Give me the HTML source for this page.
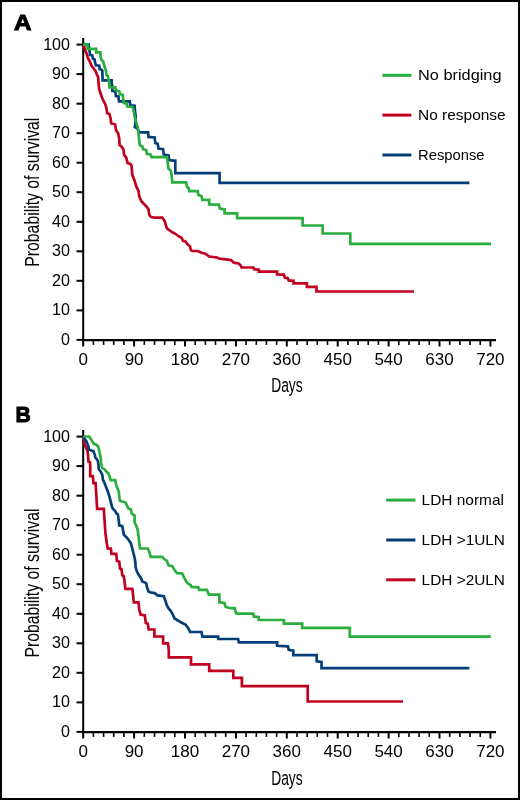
<!DOCTYPE html>
<html><head><meta charset="utf-8"><style>
html,body{margin:0;padding:0;background:#fff;}
svg{display:block;will-change:transform;}
text{font-family:"Liberation Sans",sans-serif;fill:#000;}
.tl{font-size:17px;}
.lab{font-size:20px;}
.leg{font-size:15px;}
.pl{font-size:22px;font-weight:bold;stroke:#000;stroke-width:1px;}
</style></head><body>
<svg width="520" height="800" viewBox="0 0 520 800">
<rect x="1" y="1" width="518" height="798" fill="#fff" stroke="#000" stroke-width="2"/>
<text transform="translate(14.0,30.4) scale(1.1,1)" x="0" y="0" class="pl">A</text>
<text transform="translate(15.6,421.9) scale(0.96,1)" x="0" y="0" class="pl">B</text>
<line x1="83.2" y1="37.9" x2="83.2" y2="340.9" stroke="#000" stroke-width="2"/>
<line x1="82.2" y1="340.2" x2="496" y2="340.2" stroke="#000" stroke-width="2.2"/>
<line x1="76.5" y1="339.9" x2="83.2" y2="339.9" stroke="#000" stroke-width="2"/>
<text x="70.0" y="344.8" text-anchor="end" class="tl" textLength="8.95" lengthAdjust="spacingAndGlyphs">0</text>
<line x1="76.5" y1="310.4" x2="83.2" y2="310.4" stroke="#000" stroke-width="2"/>
<text x="70.0" y="315.3" text-anchor="end" class="tl" textLength="17.90" lengthAdjust="spacingAndGlyphs">10</text>
<line x1="76.5" y1="280.8" x2="83.2" y2="280.8" stroke="#000" stroke-width="2"/>
<text x="70.0" y="285.7" text-anchor="end" class="tl" textLength="17.90" lengthAdjust="spacingAndGlyphs">20</text>
<line x1="76.5" y1="251.3" x2="83.2" y2="251.3" stroke="#000" stroke-width="2"/>
<text x="70.0" y="256.2" text-anchor="end" class="tl" textLength="17.90" lengthAdjust="spacingAndGlyphs">30</text>
<line x1="76.5" y1="221.8" x2="83.2" y2="221.8" stroke="#000" stroke-width="2"/>
<text x="70.0" y="226.7" text-anchor="end" class="tl" textLength="17.90" lengthAdjust="spacingAndGlyphs">40</text>
<line x1="76.5" y1="192.2" x2="83.2" y2="192.2" stroke="#000" stroke-width="2"/>
<text x="70.0" y="197.2" text-anchor="end" class="tl" textLength="17.90" lengthAdjust="spacingAndGlyphs">50</text>
<line x1="76.5" y1="162.7" x2="83.2" y2="162.7" stroke="#000" stroke-width="2"/>
<text x="70.0" y="167.6" text-anchor="end" class="tl" textLength="17.90" lengthAdjust="spacingAndGlyphs">60</text>
<line x1="76.5" y1="133.2" x2="83.2" y2="133.2" stroke="#000" stroke-width="2"/>
<text x="70.0" y="138.1" text-anchor="end" class="tl" textLength="17.90" lengthAdjust="spacingAndGlyphs">70</text>
<line x1="76.5" y1="103.7" x2="83.2" y2="103.7" stroke="#000" stroke-width="2"/>
<text x="70.0" y="108.6" text-anchor="end" class="tl" textLength="17.90" lengthAdjust="spacingAndGlyphs">80</text>
<line x1="76.5" y1="74.1" x2="83.2" y2="74.1" stroke="#000" stroke-width="2"/>
<text x="70.0" y="79.0" text-anchor="end" class="tl" textLength="17.90" lengthAdjust="spacingAndGlyphs">90</text>
<line x1="76.5" y1="44.6" x2="83.2" y2="44.6" stroke="#000" stroke-width="2"/>
<text x="70.0" y="49.5" text-anchor="end" class="tl" textLength="26.85" lengthAdjust="spacingAndGlyphs">100</text>
<line x1="83.2" y1="339.9" x2="83.2" y2="346.5" stroke="#000" stroke-width="2"/>
<text x="83.2" y="365.2" text-anchor="middle" class="tl">0</text>
<line x1="93.4" y1="339.9" x2="93.4" y2="344.9" stroke="#000" stroke-width="1.6"/>
<line x1="103.6" y1="339.9" x2="103.6" y2="344.9" stroke="#000" stroke-width="1.6"/>
<line x1="113.7" y1="339.9" x2="113.7" y2="344.9" stroke="#000" stroke-width="1.6"/>
<line x1="123.9" y1="339.9" x2="123.9" y2="344.9" stroke="#000" stroke-width="1.6"/>
<line x1="134.1" y1="339.9" x2="134.1" y2="346.5" stroke="#000" stroke-width="2"/>
<text x="134.1" y="365.2" text-anchor="middle" class="tl">90</text>
<line x1="144.3" y1="339.9" x2="144.3" y2="344.9" stroke="#000" stroke-width="1.6"/>
<line x1="154.5" y1="339.9" x2="154.5" y2="344.9" stroke="#000" stroke-width="1.6"/>
<line x1="164.6" y1="339.9" x2="164.6" y2="344.9" stroke="#000" stroke-width="1.6"/>
<line x1="174.8" y1="339.9" x2="174.8" y2="344.9" stroke="#000" stroke-width="1.6"/>
<line x1="185.0" y1="339.9" x2="185.0" y2="346.5" stroke="#000" stroke-width="2"/>
<text x="185.0" y="365.2" text-anchor="middle" class="tl">180</text>
<line x1="195.2" y1="339.9" x2="195.2" y2="344.9" stroke="#000" stroke-width="1.6"/>
<line x1="205.4" y1="339.9" x2="205.4" y2="344.9" stroke="#000" stroke-width="1.6"/>
<line x1="215.5" y1="339.9" x2="215.5" y2="344.9" stroke="#000" stroke-width="1.6"/>
<line x1="225.7" y1="339.9" x2="225.7" y2="344.9" stroke="#000" stroke-width="1.6"/>
<line x1="235.9" y1="339.9" x2="235.9" y2="346.5" stroke="#000" stroke-width="2"/>
<text x="235.9" y="365.2" text-anchor="middle" class="tl">270</text>
<line x1="246.1" y1="339.9" x2="246.1" y2="344.9" stroke="#000" stroke-width="1.6"/>
<line x1="256.3" y1="339.9" x2="256.3" y2="344.9" stroke="#000" stroke-width="1.6"/>
<line x1="266.4" y1="339.9" x2="266.4" y2="344.9" stroke="#000" stroke-width="1.6"/>
<line x1="276.6" y1="339.9" x2="276.6" y2="344.9" stroke="#000" stroke-width="1.6"/>
<line x1="286.8" y1="339.9" x2="286.8" y2="346.5" stroke="#000" stroke-width="2"/>
<text x="286.8" y="365.2" text-anchor="middle" class="tl">360</text>
<line x1="297.0" y1="339.9" x2="297.0" y2="344.9" stroke="#000" stroke-width="1.6"/>
<line x1="307.2" y1="339.9" x2="307.2" y2="344.9" stroke="#000" stroke-width="1.6"/>
<line x1="317.3" y1="339.9" x2="317.3" y2="344.9" stroke="#000" stroke-width="1.6"/>
<line x1="327.5" y1="339.9" x2="327.5" y2="344.9" stroke="#000" stroke-width="1.6"/>
<line x1="337.7" y1="339.9" x2="337.7" y2="346.5" stroke="#000" stroke-width="2"/>
<text x="337.7" y="365.2" text-anchor="middle" class="tl">450</text>
<line x1="347.9" y1="339.9" x2="347.9" y2="344.9" stroke="#000" stroke-width="1.6"/>
<line x1="358.1" y1="339.9" x2="358.1" y2="344.9" stroke="#000" stroke-width="1.6"/>
<line x1="368.2" y1="339.9" x2="368.2" y2="344.9" stroke="#000" stroke-width="1.6"/>
<line x1="378.4" y1="339.9" x2="378.4" y2="344.9" stroke="#000" stroke-width="1.6"/>
<line x1="388.6" y1="339.9" x2="388.6" y2="346.5" stroke="#000" stroke-width="2"/>
<text x="388.6" y="365.2" text-anchor="middle" class="tl">540</text>
<line x1="398.8" y1="339.9" x2="398.8" y2="344.9" stroke="#000" stroke-width="1.6"/>
<line x1="409.0" y1="339.9" x2="409.0" y2="344.9" stroke="#000" stroke-width="1.6"/>
<line x1="419.1" y1="339.9" x2="419.1" y2="344.9" stroke="#000" stroke-width="1.6"/>
<line x1="429.3" y1="339.9" x2="429.3" y2="344.9" stroke="#000" stroke-width="1.6"/>
<line x1="439.5" y1="339.9" x2="439.5" y2="346.5" stroke="#000" stroke-width="2"/>
<text x="439.5" y="365.2" text-anchor="middle" class="tl">630</text>
<line x1="449.7" y1="339.9" x2="449.7" y2="344.9" stroke="#000" stroke-width="1.6"/>
<line x1="459.9" y1="339.9" x2="459.9" y2="344.9" stroke="#000" stroke-width="1.6"/>
<line x1="470.0" y1="339.9" x2="470.0" y2="344.9" stroke="#000" stroke-width="1.6"/>
<line x1="480.2" y1="339.9" x2="480.2" y2="344.9" stroke="#000" stroke-width="1.6"/>
<line x1="490.4" y1="339.9" x2="490.4" y2="346.5" stroke="#000" stroke-width="2"/>
<text x="490.4" y="365.2" text-anchor="middle" class="tl">720</text>
<text x="271.2" y="392.1" class="lab" textLength="31.5" lengthAdjust="spacingAndGlyphs">Days</text>
<text transform="translate(39.3,192.2) rotate(-90)" x="0" y="0" text-anchor="middle" class="lab" textLength="149" lengthAdjust="spacingAndGlyphs">Probability of survival</text>
<line x1="83.2" y1="429.9" x2="83.2" y2="732.9" stroke="#000" stroke-width="2"/>
<line x1="82.2" y1="732.2" x2="496" y2="732.2" stroke="#000" stroke-width="2.2"/>
<line x1="76.5" y1="731.9" x2="83.2" y2="731.9" stroke="#000" stroke-width="2"/>
<text x="70.0" y="736.8" text-anchor="end" class="tl" textLength="8.95" lengthAdjust="spacingAndGlyphs">0</text>
<line x1="76.5" y1="702.4" x2="83.2" y2="702.4" stroke="#000" stroke-width="2"/>
<text x="70.0" y="707.3" text-anchor="end" class="tl" textLength="17.90" lengthAdjust="spacingAndGlyphs">10</text>
<line x1="76.5" y1="672.8" x2="83.2" y2="672.8" stroke="#000" stroke-width="2"/>
<text x="70.0" y="677.7" text-anchor="end" class="tl" textLength="17.90" lengthAdjust="spacingAndGlyphs">20</text>
<line x1="76.5" y1="643.3" x2="83.2" y2="643.3" stroke="#000" stroke-width="2"/>
<text x="70.0" y="648.2" text-anchor="end" class="tl" textLength="17.90" lengthAdjust="spacingAndGlyphs">30</text>
<line x1="76.5" y1="613.8" x2="83.2" y2="613.8" stroke="#000" stroke-width="2"/>
<text x="70.0" y="618.7" text-anchor="end" class="tl" textLength="17.90" lengthAdjust="spacingAndGlyphs">40</text>
<line x1="76.5" y1="584.2" x2="83.2" y2="584.2" stroke="#000" stroke-width="2"/>
<text x="70.0" y="589.1" text-anchor="end" class="tl" textLength="17.90" lengthAdjust="spacingAndGlyphs">50</text>
<line x1="76.5" y1="554.7" x2="83.2" y2="554.7" stroke="#000" stroke-width="2"/>
<text x="70.0" y="559.6" text-anchor="end" class="tl" textLength="17.90" lengthAdjust="spacingAndGlyphs">60</text>
<line x1="76.5" y1="525.2" x2="83.2" y2="525.2" stroke="#000" stroke-width="2"/>
<text x="70.0" y="530.1" text-anchor="end" class="tl" textLength="17.90" lengthAdjust="spacingAndGlyphs">70</text>
<line x1="76.5" y1="495.7" x2="83.2" y2="495.7" stroke="#000" stroke-width="2"/>
<text x="70.0" y="500.6" text-anchor="end" class="tl" textLength="17.90" lengthAdjust="spacingAndGlyphs">80</text>
<line x1="76.5" y1="466.1" x2="83.2" y2="466.1" stroke="#000" stroke-width="2"/>
<text x="70.0" y="471.0" text-anchor="end" class="tl" textLength="17.90" lengthAdjust="spacingAndGlyphs">90</text>
<line x1="76.5" y1="436.6" x2="83.2" y2="436.6" stroke="#000" stroke-width="2"/>
<text x="70.0" y="441.5" text-anchor="end" class="tl" textLength="26.85" lengthAdjust="spacingAndGlyphs">100</text>
<line x1="83.2" y1="731.9" x2="83.2" y2="738.5" stroke="#000" stroke-width="2"/>
<text x="83.2" y="757.2" text-anchor="middle" class="tl">0</text>
<line x1="93.4" y1="731.9" x2="93.4" y2="736.9" stroke="#000" stroke-width="1.6"/>
<line x1="103.6" y1="731.9" x2="103.6" y2="736.9" stroke="#000" stroke-width="1.6"/>
<line x1="113.7" y1="731.9" x2="113.7" y2="736.9" stroke="#000" stroke-width="1.6"/>
<line x1="123.9" y1="731.9" x2="123.9" y2="736.9" stroke="#000" stroke-width="1.6"/>
<line x1="134.1" y1="731.9" x2="134.1" y2="738.5" stroke="#000" stroke-width="2"/>
<text x="134.1" y="757.2" text-anchor="middle" class="tl">90</text>
<line x1="144.3" y1="731.9" x2="144.3" y2="736.9" stroke="#000" stroke-width="1.6"/>
<line x1="154.5" y1="731.9" x2="154.5" y2="736.9" stroke="#000" stroke-width="1.6"/>
<line x1="164.6" y1="731.9" x2="164.6" y2="736.9" stroke="#000" stroke-width="1.6"/>
<line x1="174.8" y1="731.9" x2="174.8" y2="736.9" stroke="#000" stroke-width="1.6"/>
<line x1="185.0" y1="731.9" x2="185.0" y2="738.5" stroke="#000" stroke-width="2"/>
<text x="185.0" y="757.2" text-anchor="middle" class="tl">180</text>
<line x1="195.2" y1="731.9" x2="195.2" y2="736.9" stroke="#000" stroke-width="1.6"/>
<line x1="205.4" y1="731.9" x2="205.4" y2="736.9" stroke="#000" stroke-width="1.6"/>
<line x1="215.5" y1="731.9" x2="215.5" y2="736.9" stroke="#000" stroke-width="1.6"/>
<line x1="225.7" y1="731.9" x2="225.7" y2="736.9" stroke="#000" stroke-width="1.6"/>
<line x1="235.9" y1="731.9" x2="235.9" y2="738.5" stroke="#000" stroke-width="2"/>
<text x="235.9" y="757.2" text-anchor="middle" class="tl">270</text>
<line x1="246.1" y1="731.9" x2="246.1" y2="736.9" stroke="#000" stroke-width="1.6"/>
<line x1="256.3" y1="731.9" x2="256.3" y2="736.9" stroke="#000" stroke-width="1.6"/>
<line x1="266.4" y1="731.9" x2="266.4" y2="736.9" stroke="#000" stroke-width="1.6"/>
<line x1="276.6" y1="731.9" x2="276.6" y2="736.9" stroke="#000" stroke-width="1.6"/>
<line x1="286.8" y1="731.9" x2="286.8" y2="738.5" stroke="#000" stroke-width="2"/>
<text x="286.8" y="757.2" text-anchor="middle" class="tl">360</text>
<line x1="297.0" y1="731.9" x2="297.0" y2="736.9" stroke="#000" stroke-width="1.6"/>
<line x1="307.2" y1="731.9" x2="307.2" y2="736.9" stroke="#000" stroke-width="1.6"/>
<line x1="317.3" y1="731.9" x2="317.3" y2="736.9" stroke="#000" stroke-width="1.6"/>
<line x1="327.5" y1="731.9" x2="327.5" y2="736.9" stroke="#000" stroke-width="1.6"/>
<line x1="337.7" y1="731.9" x2="337.7" y2="738.5" stroke="#000" stroke-width="2"/>
<text x="337.7" y="757.2" text-anchor="middle" class="tl">450</text>
<line x1="347.9" y1="731.9" x2="347.9" y2="736.9" stroke="#000" stroke-width="1.6"/>
<line x1="358.1" y1="731.9" x2="358.1" y2="736.9" stroke="#000" stroke-width="1.6"/>
<line x1="368.2" y1="731.9" x2="368.2" y2="736.9" stroke="#000" stroke-width="1.6"/>
<line x1="378.4" y1="731.9" x2="378.4" y2="736.9" stroke="#000" stroke-width="1.6"/>
<line x1="388.6" y1="731.9" x2="388.6" y2="738.5" stroke="#000" stroke-width="2"/>
<text x="388.6" y="757.2" text-anchor="middle" class="tl">540</text>
<line x1="398.8" y1="731.9" x2="398.8" y2="736.9" stroke="#000" stroke-width="1.6"/>
<line x1="409.0" y1="731.9" x2="409.0" y2="736.9" stroke="#000" stroke-width="1.6"/>
<line x1="419.1" y1="731.9" x2="419.1" y2="736.9" stroke="#000" stroke-width="1.6"/>
<line x1="429.3" y1="731.9" x2="429.3" y2="736.9" stroke="#000" stroke-width="1.6"/>
<line x1="439.5" y1="731.9" x2="439.5" y2="738.5" stroke="#000" stroke-width="2"/>
<text x="439.5" y="757.2" text-anchor="middle" class="tl">630</text>
<line x1="449.7" y1="731.9" x2="449.7" y2="736.9" stroke="#000" stroke-width="1.6"/>
<line x1="459.9" y1="731.9" x2="459.9" y2="736.9" stroke="#000" stroke-width="1.6"/>
<line x1="470.0" y1="731.9" x2="470.0" y2="736.9" stroke="#000" stroke-width="1.6"/>
<line x1="480.2" y1="731.9" x2="480.2" y2="736.9" stroke="#000" stroke-width="1.6"/>
<line x1="490.4" y1="731.9" x2="490.4" y2="738.5" stroke="#000" stroke-width="2"/>
<text x="490.4" y="757.2" text-anchor="middle" class="tl">720</text>
<text x="271.2" y="784.7" class="lab" textLength="31.5" lengthAdjust="spacingAndGlyphs">Days</text>
<text transform="translate(39.3,583.0) rotate(-90)" x="0" y="0" text-anchor="middle" class="lab" textLength="149" lengthAdjust="spacingAndGlyphs">Probability of survival</text>
<path d="M83.2,44.6 L84.3,46.7 L84.9,49.8 L85.8,51.7 L86.8,54.0 L87.7,57.2 L88.6,59.5 L90.0,61.8 L90.9,64.2 L92.1,66.5 L93.2,67.8 L94.6,69.7 L96.0,72.0 L96.9,74.6 L98.2,77.0 L98.5,83.1 L99.2,89.2 L100.8,94.0 L102.0,97.5 L103.1,100.2 L105.0,103.5 L106.0,106.5 L106.8,110.0 L107.1,113.0 L109.4,114.0 L110.6,118.5 L111.2,123.5 L115.0,124.3 L116.0,130.0 L118.2,133.5 L119.2,138.5 L119.6,145.0 L122.0,147.0 L123.6,150.0 L124.0,154.6 L126.2,157.7 L127.7,163.1 L130.5,164.0 L131.5,165.4 L132.3,174.6 L134.6,180.8 L136.2,186.2 L138.5,190.8 L139.2,196.2 L141.5,201.5 L143.8,203.8 L146.2,206.2 L148.5,209.2 L149.2,214.6 L150.8,216.9 L154.6,217.7 L162.3,217.7 L164.6,220.8 L166.2,226.2 L166.9,228.5 L169.2,230.0 L172.3,232.3 L175.4,233.8 L178.5,236.2 L181.5,237.7 L183.1,240.8 L185.4,241.5 L187.7,244.6 L190.0,246.2 L190.8,250.0 L192.3,251.0 L197.7,251.0 L201.5,252.7 L205.4,253.7 L209.2,256.5 L216.9,257.5 L218.8,258.5 L225.6,259.4 L231.0,260.0 L233.8,262.7 L238.7,263.5 L240.6,265.4 L241.5,267.5 L253.5,267.5 L254.0,269.2 L258.8,269.8 L258.8,271.7 L277.1,271.7 L277.1,274.4 L283.8,274.6 L284.8,277.5 L287.7,278.1 L288.7,280.4 L293.5,280.8 L293.5,283.3 L306.9,283.3 L306.9,286.9 L316.5,286.9 L316.5,291.5 L414.0,291.5" fill="none" stroke="#c1001f" stroke-width="2.7" stroke-linejoin="miter" stroke-linecap="butt"/>
<path d="M83.2,44.6 L88.7,44.6 L89.1,48.0 L89.5,50.5 L90.0,54.9 L92.3,55.4 L92.8,58.6 L94.6,59.5 L95.1,62.8 L96.0,65.5 L99.2,65.5 L99.7,69.2 L101.5,69.7 L102.3,70.6 L102.6,80.4 L111.6,80.3 L111.8,85.4 L112.3,85.6 L112.3,90.8 L115.3,91.3 L115.9,96.0 L118.5,96.5 L119.0,101.3 L129.8,101.3 L130.3,105.4 L134.6,105.8 L135.0,111.5 L135.8,116.5 L135.3,124.0 L134.8,127.0 L137.5,128.5 L138.8,132.3 L148.1,132.3 L148.5,136.9 L154.6,137.4 L155.4,143.1 L157.7,143.8 L158.5,148.5 L163.1,149.2 L163.8,154.6 L168.5,155.4 L169.2,160.0 L175.3,160.8 L175.3,173.1 L219.6,173.1 L219.6,182.8 L469.4,182.8" fill="none" stroke="#043e78" stroke-width="2.7" stroke-linejoin="miter" stroke-linecap="butt"/>
<path d="M83.2,44.6 L87.5,44.6 L87.5,48.8 L96.2,48.8 L96.2,52.4 L100.4,52.4 L100.7,56.8 L101.5,60.0 L103.2,61.5 L104.3,65.5 L105.2,68.3 L106.1,71.5 L106.5,75.2 L107.8,75.8 L108.1,77.5 L108.4,79.2 L109.0,81.5 L109.3,84.4 L109.5,87.3 L115.3,87.3 L115.9,90.2 L119.3,91.3 L119.9,94.2 L122.8,94.8 L123.2,99.0 L123.8,103.0 L126.5,103.5 L127.2,106.5 L132.5,107.0 L133.5,110.0 L134.6,116.2 L136.2,122.3 L137.7,126.9 L138.5,133.1 L139.2,140.8 L140.0,145.4 L142.3,146.2 L143.1,149.2 L146.2,150.0 L146.9,153.8 L150.8,154.6 L151.5,157.2 L166.9,157.2 L167.7,162.3 L168.5,168.5 L170.8,170.8 L171.5,174.6 L172.3,182.3 L186.2,182.3 L186.9,186.9 L188.5,187.7 L189.2,191.2 L197.7,191.2 L198.5,195.2 L201.5,196.0 L202.3,199.8 L209.2,199.8 L209.2,204.4 L218.8,204.6 L219.8,208.5 L224.6,209.4 L224.6,213.3 L237.1,213.3 L237.1,218.1 L302.6,218.1 L302.6,225.5 L322.6,225.5 L322.6,233.5 L350.3,233.5 L350.3,243.9 L491.0,243.9" fill="none" stroke="#2aae3e" stroke-width="2.7" stroke-linejoin="miter" stroke-linecap="butt"/>
<path d="M83.2,436.5 L84.2,439.5 L84.6,444.6 L86.0,447.5 L87.5,450.8 L88.1,456.2 L88.5,461.8 L90.0,462.3 L90.3,466.5 L90.2,476.2 L92.8,476.2 L93.5,483.1 L95.6,483.1 L96.5,498.0 L97.1,508.8 L103.8,508.8 L104.6,520.8 L105.4,533.1 L106.9,543.8 L107.7,548.5 L110.8,548.5 L111.5,553.8 L116.2,553.8 L116.9,561.0 L119.2,561.5 L120.0,568.5 L121.5,569.2 L122.3,575.4 L123.8,576.2 L124.6,582.3 L125.4,588.8 L132.3,588.8 L133.1,595.4 L133.8,602.3 L138.5,602.3 L139.2,609.0 L140.5,614.5 L144.8,615.4 L145.8,623.0 L147.7,623.6 L148.7,629.5 L154.4,629.5 L154.4,636.5 L163.1,636.5 L163.1,643.3 L167.9,643.3 L168.8,650.0 L168.8,657.3 L191.0,657.3 L191.0,664.4 L209.2,664.4 L209.2,670.8 L233.3,670.8 L233.3,677.9 L241.9,677.9 L241.9,686.2 L307.7,686.2 L307.7,701.5 L403.0,701.5" fill="none" stroke="#c1001f" stroke-width="2.7" stroke-linejoin="miter" stroke-linecap="butt"/>
<path d="M83.2,436.5 L84.6,438.5 L86.2,440.8 L86.9,442.7 L87.7,444.6 L88.5,446.9 L88.8,449.4 L90.8,450.0 L91.5,450.8 L93.5,451.2 L94.2,453.1 L95.0,455.4 L95.4,457.7 L96.9,459.2 L98.0,461.5 L98.4,464.6 L98.8,469.2 L100.6,471.5 L102.3,475.0 L102.9,479.6 L104.6,483.1 L106.3,487.7 L108.1,492.3 L109.2,495.8 L110.4,500.4 L111.5,505.0 L112.7,508.5 L115.0,510.8 L116.2,513.1 L117.9,514.4 L118.8,521.0 L119.2,525.4 L122.3,526.2 L123.8,534.6 L126.9,537.7 L129.2,540.8 L130.8,543.1 L132.3,548.5 L133.5,553.5 L134.6,557.7 L135.4,563.0 L135.6,567.0 L136.9,571.5 L138.5,574.6 L140.8,577.7 L142.3,581.5 L146.2,583.1 L146.9,586.9 L148.5,591.5 L150.0,592.3 L154.6,593.1 L157.7,595.4 L163.8,596.2 L165.4,600.8 L166.9,605.5 L168.8,608.7 L170.8,611.0 L172.6,614.0 L174.6,618.5 L178.5,620.8 L181.3,622.5 L185.5,624.5 L188.1,627.9 L190.2,632.0 L201.5,632.0 L202.5,636.7 L218.2,636.7 L218.2,639.0 L238.1,639.0 L238.9,642.3 L277.1,642.3 L277.1,645.8 L287.9,646.3 L288.7,649.8 L293.3,650.6 L293.3,655.2 L316.7,655.2 L316.7,661.4 L321.5,661.9 L321.5,668.1 L469.3,668.1" fill="none" stroke="#043e78" stroke-width="2.7" stroke-linejoin="miter" stroke-linecap="butt"/>
<path d="M83.2,436.5 L89.2,436.5 L90.0,438.1 L91.5,440.0 L92.7,441.9 L93.8,443.8 L96.2,444.6 L98.1,446.2 L98.5,447.7 L99.2,450.8 L100.0,454.6 L100.8,458.5 L101.3,464.6 L102.3,468.1 L104.6,469.2 L106.3,471.5 L108.7,473.8 L109.8,477.3 L110.6,480.2 L115.2,480.2 L116.2,484.6 L117.7,489.2 L118.8,491.5 L119.4,497.7 L120.0,500.8 L122.3,501.5 L125.4,502.3 L126.9,505.4 L128.5,508.5 L130.8,509.2 L131.5,513.1 L133.1,514.6 L134.6,515.4 L134.6,522.3 L136.2,525.4 L137.7,530.0 L138.5,536.2 L139.2,542.3 L140.0,548.5 L147.7,548.5 L149.2,551.5 L150.8,556.9 L162.3,556.9 L164.2,559.0 L166.9,560.8 L168.5,565.4 L172.3,566.2 L174.6,570.0 L176.9,573.1 L182.3,573.5 L184.3,578.0 L186.5,582.0 L188.5,584.0 L190.6,585.0 L191.5,586.9 L198.3,587.3 L199.2,589.8 L206.9,589.8 L208.8,594.6 L219.4,594.6 L219.4,602.3 L224.4,603.0 L225.6,606.7 L228.5,607.7 L230.4,608.1 L234.8,608.1 L235.9,612.9 L236.7,613.6 L253.1,613.6 L254.0,616.7 L258.6,617.0 L258.8,620.0 L283.9,620.0 L283.9,623.7 L302.2,623.7 L302.2,627.8 L349.8,627.8 L349.8,636.6 L490.8,636.6" fill="none" stroke="#2aae3e" stroke-width="2.7" stroke-linejoin="miter" stroke-linecap="butt"/>
<line x1="382.4" y1="75.3" x2="411.4" y2="75.3" stroke="#2aae3e" stroke-width="3"/>
<text x="418.0" y="80.2" class="leg" textLength="83.5" lengthAdjust="spacingAndGlyphs">No bridging</text>
<line x1="382.4" y1="115.1" x2="411.4" y2="115.1" stroke="#c1001f" stroke-width="3"/>
<text x="418.0" y="120.0" class="leg" textLength="87.7" lengthAdjust="spacingAndGlyphs">No response</text>
<line x1="382.4" y1="155.0" x2="411.4" y2="155.0" stroke="#043e78" stroke-width="3"/>
<text x="418.0" y="159.9" class="leg" textLength="66.6" lengthAdjust="spacingAndGlyphs">Response</text>
<line x1="386.2" y1="500.1" x2="415.4" y2="500.1" stroke="#2aae3e" stroke-width="3"/>
<text x="421.6" y="505.0" class="leg" textLength="82.3" lengthAdjust="spacingAndGlyphs">LDH normal</text>
<line x1="386.2" y1="540.0" x2="415.4" y2="540.0" stroke="#043e78" stroke-width="3"/>
<text x="421.6" y="544.9" class="leg" textLength="83.4" lengthAdjust="spacingAndGlyphs">LDH &gt;1ULN</text>
<line x1="386.2" y1="579.8" x2="415.4" y2="579.8" stroke="#c1001f" stroke-width="3"/>
<text x="421.6" y="584.7" class="leg" textLength="83.4" lengthAdjust="spacingAndGlyphs">LDH &gt;2ULN</text>
</svg></body></html>
